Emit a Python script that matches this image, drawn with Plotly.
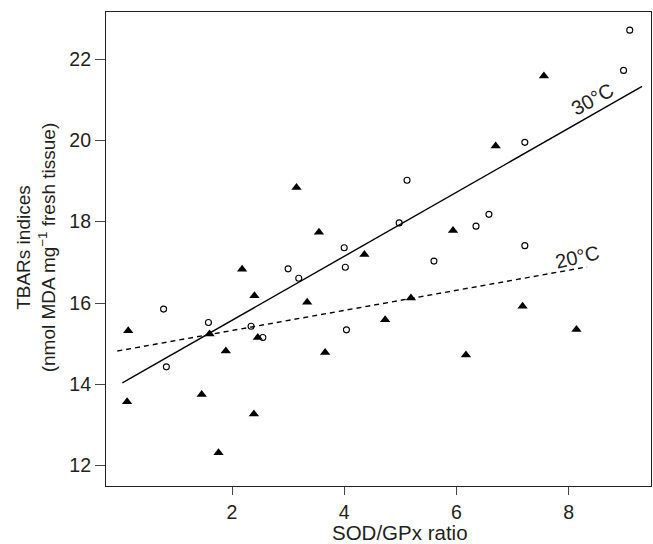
import plotly.graph_objects as go

# Measurements at 30 °C (open circles)
sod_gpx_30 = [0.78, 0.83, 1.58, 2.34, 2.55, 3.00, 3.19, 4.00, 4.02, 4.04,
              4.98, 5.12, 5.60, 6.35, 6.58, 7.22, 7.22, 8.98, 9.09]
tbars_30 = [15.85, 14.43, 15.52, 15.43, 15.15, 16.84, 16.61, 17.36, 16.88, 15.34,
            17.97, 19.02, 17.03, 17.89, 18.18, 19.95, 17.41, 21.72, 22.71]

# Measurements at 20 °C (filled triangles)
sod_gpx_20 = [0.13, 0.15, 1.46, 1.60, 1.76, 1.89, 2.18, 2.39, 2.40, 2.46,
              3.15, 3.34, 3.55, 3.66, 4.36, 4.73, 5.19, 5.94, 6.17, 6.70,
              7.18, 7.56, 8.14]
tbars_20 = [13.57, 15.32, 13.75, 15.24, 12.32, 14.82, 16.83, 13.27, 16.18, 15.15,
            18.84, 16.02, 17.74, 14.78, 17.19, 15.59, 16.12, 17.78, 14.72, 19.86,
            15.92, 21.58, 15.35]

# Linear fits: intercept, slope and the x span each line covers
fit_30 = {"intercept": 14.00, "slope": 0.787, "x_span": [0.045, 9.31]}
fit_20 = {"intercept": 14.83, "slope": 0.247, "x_span": [-0.045, 8.33]}

x_ticks = [2, 4, 6, 8]
y_ticks = [12, 14, 16, 18, 20, 22]

FONT = "Liberation Sans, Arial, Helvetica, sans-serif"
INK = "#231f20"


def fit_line(fit):
    xs = fit["x_span"]
    return xs, [fit["intercept"] + fit["slope"] * x for x in xs]


fig = go.Figure()

fx30, fy30 = fit_line(fit_30)
fx20, fy20 = fit_line(fit_20)

fig.add_trace(go.Scatter(x=fx30, y=fy30, mode="lines",
                         line=dict(color="black", width=1.4),
                         showlegend=False, hoverinfo="skip"))
fig.add_trace(go.Scatter(x=fx20, y=fy20, mode="lines",
                         line=dict(color="black", width=1.4, dash="5px,4px"),
                         showlegend=False, hoverinfo="skip"))

fig.add_trace(go.Scatter(x=sod_gpx_20, y=tbars_20, mode="markers",
                         marker=dict(symbol="triangle-up", size=9, color="black",
                                     line=dict(width=0)),
                         name="20°C", showlegend=False))
fig.add_trace(go.Scatter(x=sod_gpx_30, y=tbars_30, mode="markers",
                         marker=dict(symbol="circle-open", size=6, color="black",
                                     line=dict(width=1.1)),
                         name="30°C", showlegend=False))

# Line labels, rotated along each fit
fig.add_annotation(x=8.43, y=21.02, text="30°C", showarrow=False, textangle=-29,
                   font=dict(family=FONT, size=20, color=INK))
fig.add_annotation(x=8.15, y=17.13, text="20°C", showarrow=False, textangle=-13,
                   font=dict(family=FONT, size=20, color=INK))

# Axis titles
fig.add_annotation(xref="paper", yref="paper", x=-0.128, y=0.504,
                   xanchor="center", yanchor="middle", textangle=-90,
                   text="TBARs indices<br>(nmol MDA mg<sup>−1</sup> fresh tissue)",
                   showarrow=False, font=dict(family=FONT, size=19, color=INK))
fig.add_annotation(xref="paper", yref="paper", x=0.539, y=-0.099,
                   xanchor="center", yanchor="middle",
                   text="SOD/GPx ratio", showarrow=False,
                   font=dict(family=FONT, size=20.5, color=INK))

axis_common = dict(showgrid=False, zeroline=False, showline=True, mirror=True,
                   linecolor=INK, linewidth=1.2, ticks="outside",
                   tickcolor="#444", tickwidth=1,
                   tickfont=dict(family=FONT, size=19.5, color=INK))

fig.update_xaxes(range=[-0.246, 9.469], tickvals=x_ticks, ticklen=8, **axis_common)
fig.update_yaxes(range=[11.50, 23.156], tickvals=y_ticks, ticklen=10, **axis_common)

fig.update_layout(width=653, height=544,
                  margin=dict(l=106, r=2, t=12, b=58),
                  plot_bgcolor="white", paper_bgcolor="white",
                  font=dict(family=FONT, color=INK))

fig.write_html("out.html")
